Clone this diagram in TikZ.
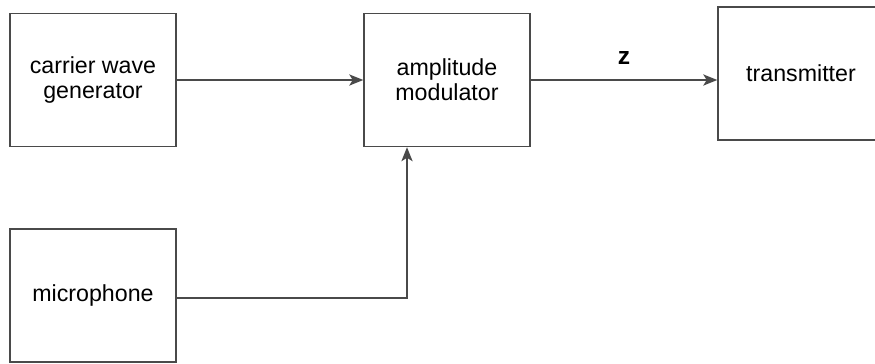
\documentclass[tikz,border=0pt]{standalone}
\usepackage{fontspec}
\setmainfont{Liberation Sans}
\usetikzlibrary{arrows.meta, positioning}
\definecolor{linegray}{HTML}{4A4A4A}

\begin{document}
\begin{tikzpicture}[x=0.025cm, y=-0.025cm,
    every node/.style={font=\fontsize{16.5}{17.7}\selectfont},
    block/.style={draw=linegray, line width=1pt, minimum width=4.15cm,
        minimum height=3.325cm, align=center, inner sep=0pt},
    conn/.style={draw=linegray, line width=1pt, -{Stealth[length=10pt, width=8pt, inset=2.5pt]}}]
    \useasboundingbox (0,0) rectangle (875,363);

    % blocks
    \node[block] (carrier) at (93, 80) {carrier wave\\generator};
    \node[block] (modulator) at (447, 80) {amplitude\\modulator};
    \node[block] (transmitter) at (801, 73.5) {transmitter};
    \node[block] (microphone) at (93, 295.5) {microphone};

    % signals
    \coordinate (bend) at (407, 298);
    \draw[conn] (carrier.east) -- (modulator.west);
    \draw[conn] (modulator.east) -- (modulator.east -| transmitter.west)
        node[pos=0.5, above=7pt, font=\fontsize{17.5}{18}\selectfont\bfseries] (zlabel) {z};
    \draw[conn] (microphone.east |- bend) -- (bend) -- (bend |- modulator.south);
\end{tikzpicture}
\end{document}
